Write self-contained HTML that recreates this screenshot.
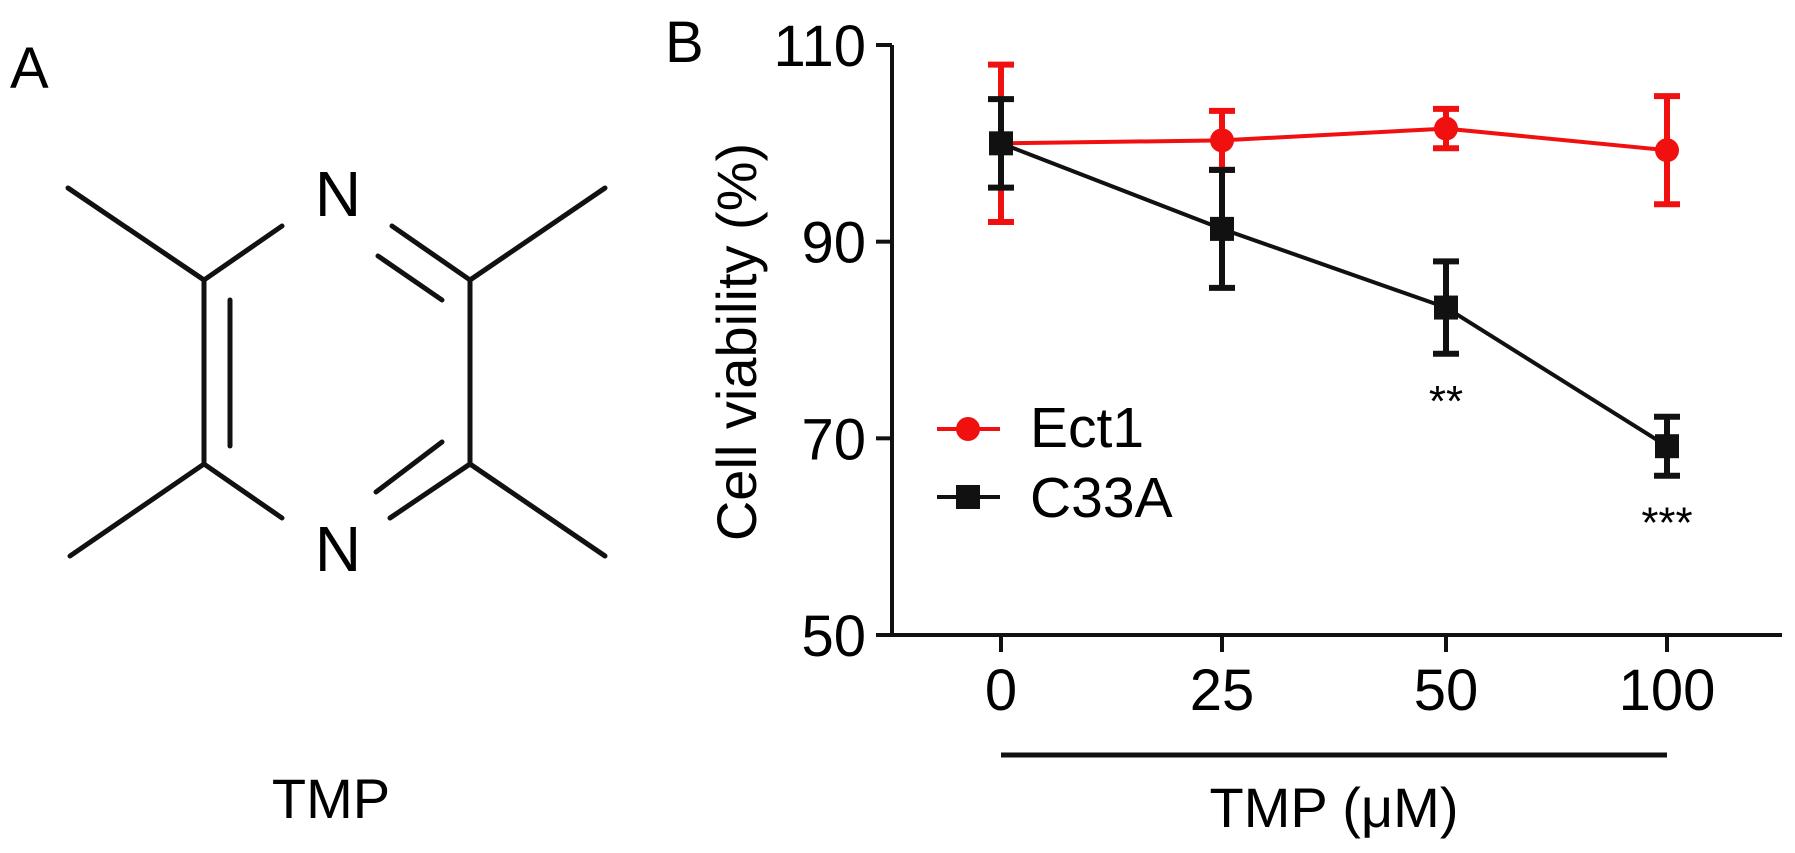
<!DOCTYPE html>
<html><head><meta charset="utf-8"><style>
html,body{margin:0;padding:0;background:#fff}
svg{display:block;font-family:"Liberation Sans",Arial,sans-serif}
</style></head><body>
<svg id="fig" width="1795" height="853" viewBox="0 0 1795 853">
<g>
<text x="10" y="88" font-size="58">A</text>
<g stroke="#111" stroke-width="5" stroke-linecap="round" fill="none">
<line x1="204" y1="280" x2="68" y2="188"/>
<line x1="470" y1="280" x2="605" y2="188"/>
<line x1="204" y1="464" x2="70" y2="556"/>
<line x1="470" y1="464" x2="605" y2="556"/>
<line x1="204" y1="280" x2="204" y2="464"/>
<line x1="230" y1="300" x2="230" y2="446"/>
<line x1="470" y1="280" x2="470" y2="464"/>
<line x1="204" y1="280" x2="282" y2="226"/>
<line x1="204" y1="464" x2="282" y2="518"/>
<line x1="470" y1="280" x2="392" y2="226"/>
<line x1="442" y1="300" x2="378" y2="256"/>
<line x1="470" y1="464" x2="390" y2="518"/>
<line x1="442" y1="442" x2="376" y2="492"/>
</g>
<text x="338" y="216" font-size="64" text-anchor="middle">N</text>
<text x="338" y="571" font-size="64" text-anchor="middle">N</text>
<text x="331" y="818" font-size="56" text-anchor="middle">TMP</text>
</g>
<text x="665" y="62" font-size="58">B</text>
<g id="chart"></g>
</svg>
<script>
const categories=["0","25","50","100"];
const ectValues=[100,100.3,101.5,99.3];
const ectErrors=[8,3,2,5.5];
const c33Values=[100,91.3,83.3,69.2];
const c33Errors=[4.5,6,4.7,3];
const yTicks=[50,70,90,110];
const stars=["","","**","***"];
const NS="http://www.w3.org/2000/svg";
const g=document.getElementById('chart');
const xPos=[1001,1222,1446,1667];
const X=i=>xPos[i];
const Y=v=>635-(v-50)*(590/60);
function el(t,a,p){const e=document.createElementNS(NS,t);for(const k in a)e.setAttribute(k,a[k]);(p||g).appendChild(e);return e;}
let e;
e=el('line',{x1:892,y1:Y(110),x2:892,y2:635,stroke:'#111','stroke-width':4});


e=el('line',{x1:890,y1:635,x2:1782,y2:635,stroke:'#111','stroke-width':4});


yTicks.forEach(v=>{
 e=el('line',{x1:876,y1:Y(v),x2:892,y2:Y(v),stroke:'#111','stroke-width':4});
 
 
 e=el('text',{x:866,y:Y(v)+21,'font-size':58,'text-anchor':'end'});e.textContent=v;
 
 
});
categories.forEach((c,i)=>{
 e=el('line',{x1:X(i),y1:635,x2:X(i),y2:652,stroke:'#111','stroke-width':4});
 
 
 e=el('text',{x:X(i),y:710,'font-size':58,'text-anchor':'middle'});e.textContent=c;
 
 
});
e=el('line',{x1:X(0),y1:755,x2:X(3),y2:755,stroke:'#111','stroke-width':5});


e=el('text',{x:(X(0)+X(3))/2,y:827,'font-size':56,'text-anchor':'middle'});e.textContent='TMP (μM)';


e=el('text',{x:0,y:0,'font-size':56,'text-anchor':'middle',transform:'translate(756,342) rotate(-90)'});e.textContent='Cell viability (%)';


function series(vals,errs,color,name,square){
 e=el('polyline',{points:vals.map((v,i)=>X(i)+','+Y(v)).join(' '),fill:'none',stroke:color,'stroke-width':4});
 
 
 vals.forEach((v,i)=>{
  const x=X(i),t=Y(v+errs[i]),b=Y(v-errs[i]);
  e=el('path',{d:`M${x},${t}V${b}M${x-13},${t}H${x+13}M${x-13},${b}H${x+13}`,stroke:color,'stroke-width':6,fill:'none'});
  
  
  if(square){e=el('rect',{x:x-12,y:Y(v)-12,width:24,height:24,fill:color});}
  else{e=el('circle',{cx:x,cy:Y(v),r:12,fill:color});}
  
  
 });
}
series(ectValues,ectErrors,'#f01010','ect1',false);
series(c33Values,c33Errors,'#111','c33a',true);
stars.forEach((s,i)=>{ if(!s)return;
 e=el('text',{x:X(i),y:Y(c33Values[i]-c33Errors[i])+62,'font-size':44,'text-anchor':'middle'});e.textContent=s;
 
 
});
e=el('line',{x1:937,y1:429,x2:1000,y2:429,stroke:'#f01010','stroke-width':4});


e=el('circle',{cx:968,cy:429,r:12,fill:'#f01010'});


e=el('text',{x:1030,y:447,'font-size':57});e.textContent='Ect1';


e=el('line',{x1:937,y1:497,x2:1000,y2:497,stroke:'#111','stroke-width':4});


e=el('rect',{x:956,y:485,width:24,height:24,fill:'#111'});


e=el('text',{x:1030,y:517,'font-size':57});e.textContent='C33A';


</script>
</body></html>
